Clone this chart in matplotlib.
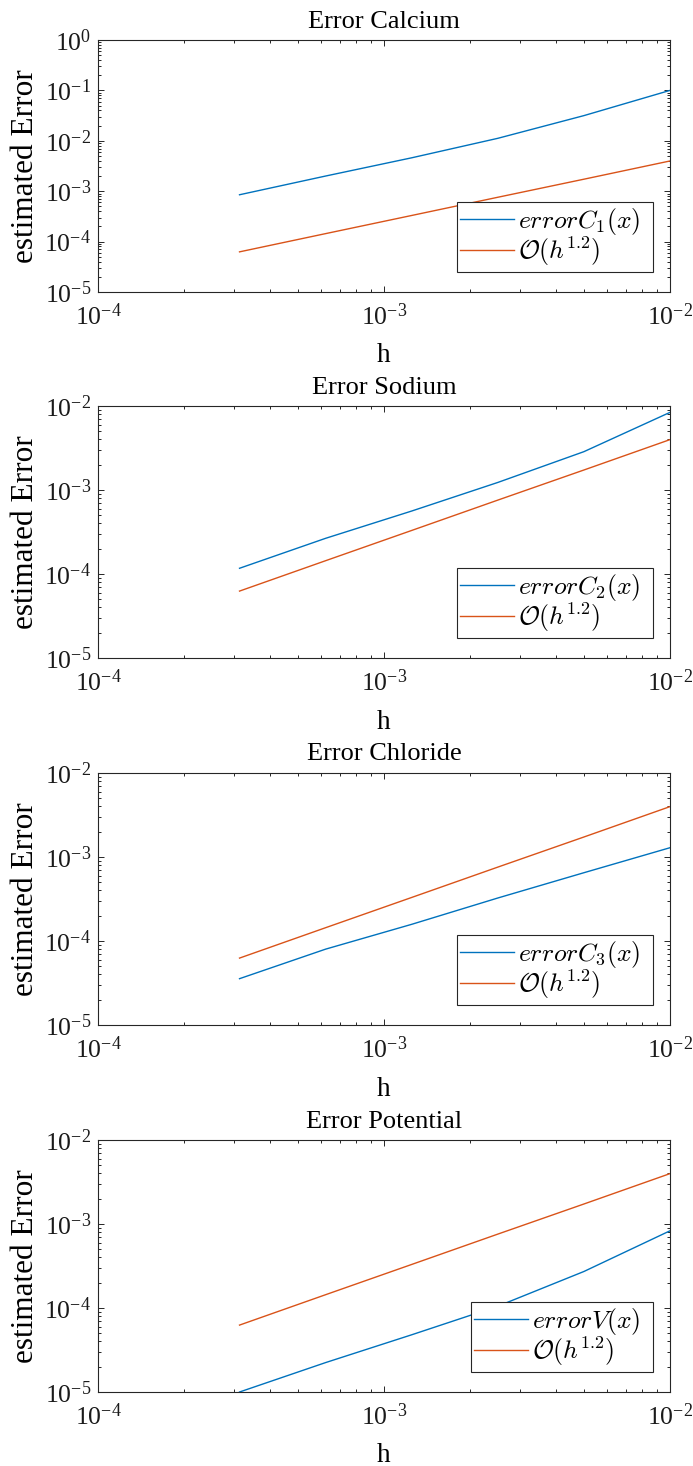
import matplotlib
matplotlib.use("Agg")
import matplotlib.pyplot as plt
from matplotlib.ticker import LogLocator, NullFormatter

plt.rcParams['font.family'] = ['Liberation Serif', 'DejaVu Serif']
plt.rcParams['mathtext.fontset'] = 'custom'
plt.rcParams['mathtext.rm'] = 'Liberation Serif'
plt.rcParams['mathtext.it'] = 'Liberation Serif:italic'

# ---- data ----
h = [1e-2, 5e-3, 2.5e-3, 1.25e-3, 6.25e-4, 3.125e-4]
ref_h12 = [3.98e-3, 1.73e-3, 7.58e-4, 3.30e-4, 1.44e-4, 6.26e-5]
err_calcium = [1.0e-1, 3.16e-2, 1.12e-2, 4.6e-3, 2.0e-3, 8.5e-4]
err_sodium = [8.4e-3, 2.86e-3, 1.23e-3, 5.62e-4, 2.66e-4, 1.17e-4]
err_chloride = [1.29e-3, 6.5e-4, 3.25e-4, 1.58e-4, 8.0e-5, 3.56e-5]
err_potential = [8.3e-4, 2.72e-4, 1.05e-4, 4.8e-5, 2.24e-5, 1.0e-5]

titles = ['Error Calcium', 'Error Sodium', 'Error Chloride', 'Error Potential']
labels = [r'$errorC_1(x)$  ', r'$errorC_2(x)$  ', r'$errorC_3(x)$  ', r'$errorV(x)$  ']
ref_label = r'$\mathcal{O}(h^{1.2})$'
series = [err_calcium, err_sodium, err_chloride, err_potential]
ylims = [(1e-5, 1e0), (1e-5, 1e-2), (1e-5, 1e-2), (1e-5, 1e-2)]
xlim = (1e-4, 1e-2)

blue = '#0072BD'
orange = '#D95319'
axcol = '#262626'

W, H = 693, 1466
fig = plt.figure(figsize=(W / 100, H / 100), dpi=100)

tops = [40, 406, 773, 1140]
ax_h = 252
left, right = 98, 670

for i in range(4):
    ax = fig.add_axes([left / W, 1 - (tops[i] + ax_h) / H, (right - left) / W, ax_h / H])
    ax.loglog(h, series[i], color=blue, lw=1.0, label=labels[i])
    ax.loglog(h, ref_h12, color=orange, lw=1.0, label=ref_label)
    ax.set_xlim(*xlim)
    ax.set_ylim(*ylims[i])
    ax.xaxis.set_major_locator(LogLocator(base=10, numticks=10))
    ax.yaxis.set_major_locator(LogLocator(base=10, numticks=10))
    ax.xaxis.set_minor_locator(LogLocator(base=10, subs=range(2, 10), numticks=20))
    ax.yaxis.set_minor_locator(LogLocator(base=10, subs=range(2, 10), numticks=20))
    ax.xaxis.set_minor_formatter(NullFormatter())
    ax.yaxis.set_minor_formatter(NullFormatter())
    ax.tick_params(which='both', direction='in', top=True, right=True, colors=axcol,
                   labelcolor='#1a1a1a', width=0.7)
    ax.tick_params(which='major', length=4.5, labelsize=18.5)
    ax.tick_params(axis='x', which='major', pad=8)
    ax.tick_params(axis='y', which='major', pad=5)
    ax.tick_params(which='minor', length=2.5)
    for sp in ax.spines.values():
        sp.set_color(axcol)
        sp.set_linewidth(0.8)
    ax.set_title(titles[i], fontsize=19, pad=9)
    ax.set_xlabel('h', fontsize=19.5, labelpad=10)
    ax.set_ylabel('estimated Error', fontsize=22.5, labelpad=3)
    leg = ax.legend(loc='lower right', bbox_to_anchor=(1 - 17 / (right - left), 20 / ax_h),
                    prop={'size': 18.5, 'math_fontfamily': 'cm'},
                    frameon=True, fancybox=False, framealpha=1, edgecolor=axcol,
                    handlelength=2.1, handletextpad=0.15, borderpad=0.14, labelspacing=-0.08,
                    borderaxespad=0)
    leg.get_frame().set_linewidth(0.8)

fig.savefig('out.png', dpi=100)
